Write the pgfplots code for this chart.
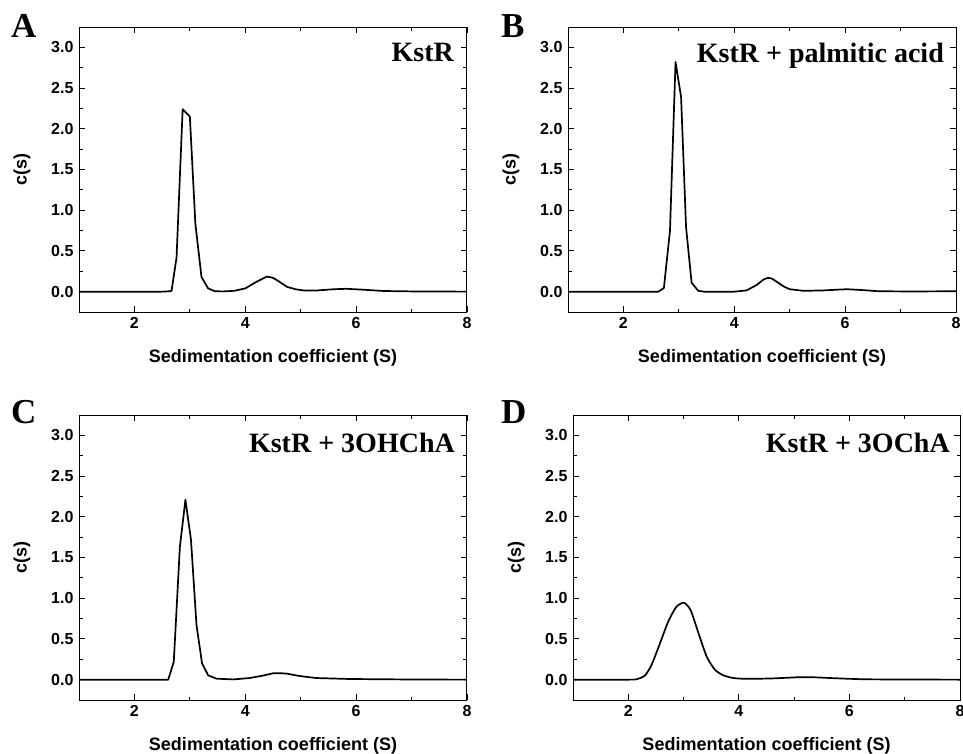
\documentclass[border=0pt]{standalone}
\usepackage{pgfplots}
\pgfplotsset{compat=1.18}
\usepackage{fontspec}
\setmainfont{Liberation Sans}
\newfontfamily\tnr{Liberation Serif}

\tikzset{
  tag/.style={anchor=north east, inner sep=0pt, font=\tnr\bfseries\fontsize{28}{28}\selectfont},
  letter/.style={anchor=base west, inner sep=0pt, font=\tnr\bfseries\fontsize{35}{35}\selectfont},
}
\pgfplotsset{
  sedpanel/.style={
    anchor=south west, scale only axis,
    width=388pt, height=285pt,
    xmin=1, xmax=8, ymin=-0.25, ymax=3.25,
    xtick={2,4,6,8}, minor xtick={3,5,7},
    ytick={0,0.5,...,3.0}, minor ytick={-0.25,0.25,0.75,...,3.25},
    major tick length=6pt, minor tick length=3.5pt,
    axis line style={line width=1pt},
    every tick/.style={black, line width=0.9pt},
    /pgf/number format/assume math mode=true,
    tick label style={font=\bfseries\fontsize{16}{16}\selectfont},
    yticklabel style={xshift=-2pt, /pgf/number format/.cd, fixed, fixed zerofill, precision=1},
    xticklabel style={yshift=-2pt},
    xlabel={Sedimentation coefficient (S)},
    ylabel={c(s)},
    label style={font=\bfseries\fontsize{18}{18}\selectfont},
    xlabel style={at={(axis description cs:0.5,0)}, anchor=base, inner sep=0pt, yshift=-50pt},
    ylabel style={at={(axis description cs:-0.147,0.5)}, anchor=center},
  },
  curve/.style={black, line width=1.7pt, no markers, line join=round},
}

\begin{document}
\begin{tikzpicture}
% A
\begin{axis}[sedpanel, at={(79pt,-312pt)}]
\addplot[curve] coordinates {(1,0) (2.5,0) (2.64,0.005) (2.67,0.01) (2.76,0.42) (2.87,2.24) (3.0,2.15) (3.1,0.83) (3.21,0.18) (3.33,0.04) (3.45,0.005) (3.6,0.003) (3.8,0.01) (4.0,0.04) (4.2,0.12) (4.39,0.185) (4.5,0.17) (4.62,0.12) (4.75,0.06) (4.9,0.03) (5.05,0.015) (5.3,0.015) (5.6,0.03) (5.83,0.035) (6.1,0.025) (6.5,0.008) (7,0.003) (8,0)};
\node[tag] at (rel axis cs:1,1) [xshift=-13pt, yshift=-16pt] {KstR};
\end{axis}
% B
\begin{axis}[sedpanel, at={(568pt,-312pt)}]
\addplot[curve] coordinates {(1,0) (2.63,0) (2.73,0.045) (2.84,0.75) (2.94,2.82) (3.04,2.39) (3.13,0.79) (3.23,0.11) (3.35,0.01) (3.45,0) (4.0,0.0) (4.22,0.015) (4.4,0.08) (4.53,0.15) (4.61,0.17) (4.68,0.16) (4.77,0.12) (4.9,0.06) (5.0,0.03) (5.25,0.01) (5.6,0.015) (6.03,0.03) (6.3,0.02) (6.6,0.005) (7.2,0.002) (8,0.005)};
\node[tag] at (rel axis cs:1,1) [xshift=-12pt, yshift=-16pt] {KstR + palmitic acid};
\end{axis}
% C
\begin{axis}[sedpanel, at={(79pt,-700pt)}]
\addplot[curve] coordinates {(1,0) (2.61,0) (2.71,0.22) (2.82,1.63) (2.92,2.21) (3.02,1.72) (3.12,0.67) (3.22,0.2) (3.33,0.053) (3.48,0.012) (3.78,0.003) (4.08,0.02) (4.32,0.05) (4.5,0.078) (4.6,0.08) (4.74,0.075) (4.98,0.045) (5.28,0.02) (5.89,0.008) (7,0.002) (8,0)};
\node[tag] at (rel axis cs:1,1) [xshift=-12pt, yshift=-18pt] {KstR + 3OHChA};
\end{axis}
% D
\begin{axis}[sedpanel, at={(573pt,-700pt)}, width=387pt]
\addplot[curve, smooth, tension=0.4] coordinates {(1,0) (2.0,0) (2.15,0.005) (2.3,0.05) (2.42,0.18) (2.57,0.44) (2.72,0.71) (2.87,0.895) (3.01,0.944) (3.13,0.85) (3.27,0.57) (3.42,0.28) (3.57,0.12) (3.72,0.053) (3.9,0.02) (4.14,0.01) (4.6,0.015) (5.1,0.03) (5.4,0.028) (5.65,0.02) (6.25,0.005) (7,0.002) (8,0)};
\node[tag] at (rel axis cs:1,1) [xshift=-10pt, yshift=-18pt] {KstR + 3OChA};
\end{axis}
% panel letters
\node[letter] at (11pt,-37pt) {A};
\node[letter] at (501pt,-37pt) {B};
\node[letter] at (11pt,-423pt) {C};
\node[letter] at (501pt,-423pt) {D};
\pgfresetboundingbox
\useasboundingbox (0pt,0pt) rectangle (963pt,-753pt);
\end{tikzpicture}
\end{document}
